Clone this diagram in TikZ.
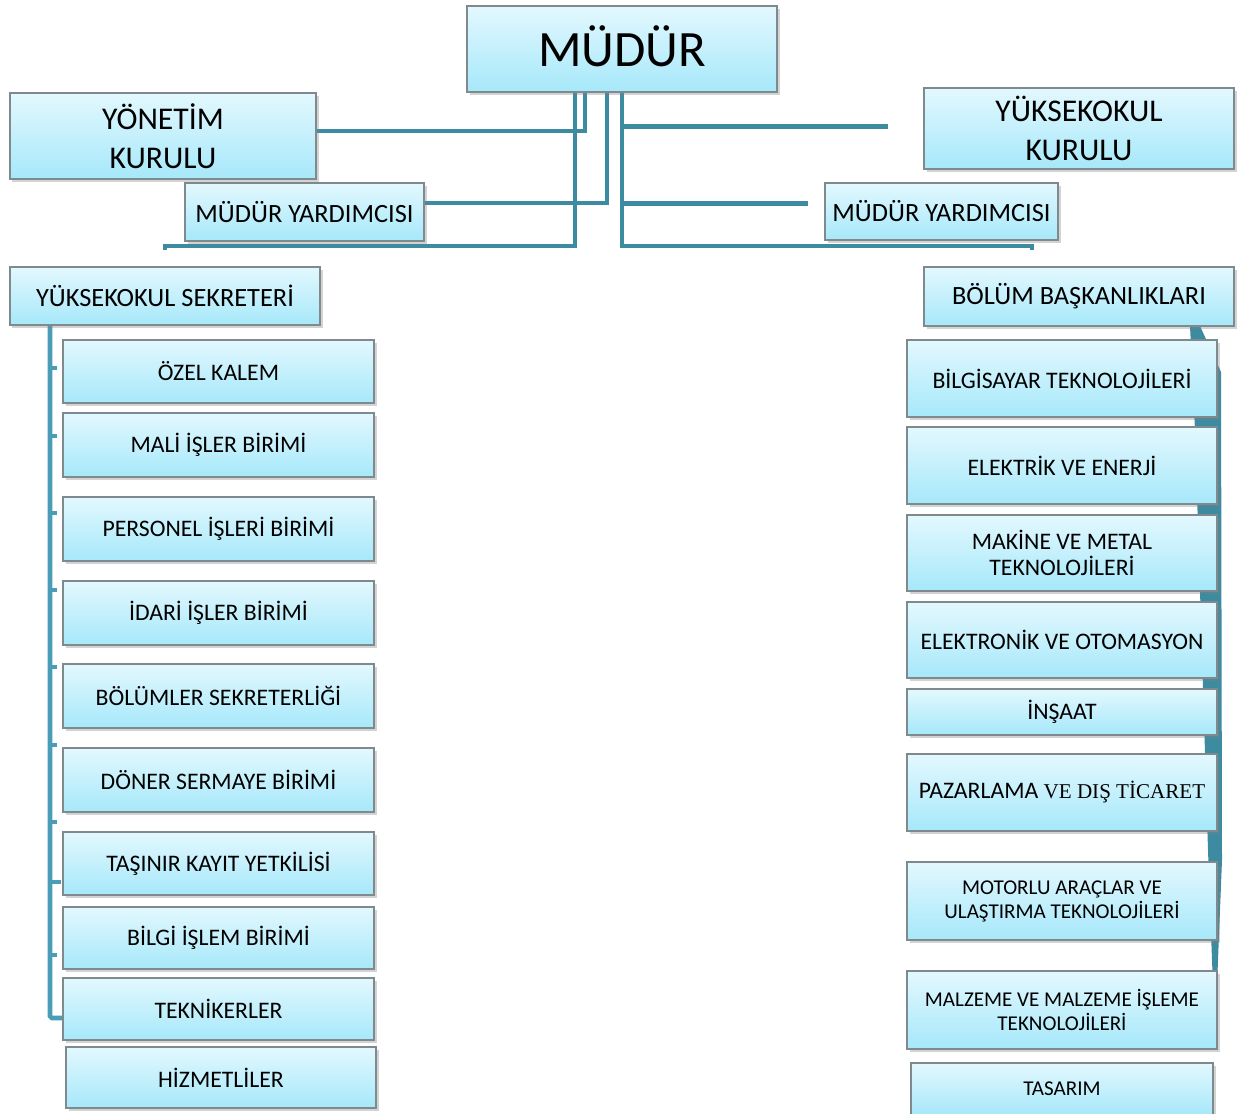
\documentclass[tikz,border=0pt]{standalone}
\usepackage{fontspec}
\setmainfont{Carlito}
\newfontfamily\serifx{Liberation Serif}
\usetikzlibrary{shadows,calc,backgrounds}
\definecolor{boxtop}{HTML}{E3F8FE}
\definecolor{boxbot}{HTML}{A6E8FA}
\definecolor{boxborder}{HTML}{7F8A8E}
\definecolor{conncol}{HTML}{3D8BA1}
\definecolor{conncolL}{HTML}{4A9DB6}
\tikzset{
  box/.style={draw=boxborder, line width=0.6pt, top color=boxtop, bottom color=boxbot,
    drop shadow={shadow xshift=0.05cm, shadow yshift=-0.06cm, opacity=0.35},
    inner sep=0pt, outer sep=0pt, align=center, text=black},
  conn/.style={draw=conncol, line width=2.6pt},
  connL/.style={draw=conncolL, line width=2.6pt},
  stub/.style={draw=conncolL, line width=1.8pt}
}
\newcommand\bx[7]{\node[box, minimum width={(#4-#2)*0.02cm}, minimum height={(#5-#3)*0.02cm}, font=#6] (#1) at ({(#2+#4)/2},{(#3+#5)/2}) {#7};}
\begin{document}
\begin{tikzpicture}[x=0.02cm,y=-0.02cm]
\useasboundingbox (0,0) rectangle (1241,1113);
% helper coordinates
\coordinate (x50) at (50,0);
\coordinate (x575) at (575,0);
\coordinate (x585) at (585,0);
\coordinate (x607) at (607,0);
\coordinate (x622) at (622,0);
\coordinate (lend) at (165,246);
\coordinate (rend) at (1032,246);

% top level
\bx{mudur}{467}{6}{777}{92}{\fontsize{29}{34}\selectfont}{\raisebox{3pt}{MÜDÜR}}
\bx{yon}{10}{93}{316}{179}{\fontsize{18}{22}\selectfont}{YÖNETİM\\KURULU}
\bx{ykk}{924}{88}{1234}{169}{\fontsize{18}{22}\selectfont}{YÜKSEKOKUL\\KURULU}
\bx{myl}{185}{183}{424}{241}{\fontsize{15}{18}\selectfont}{MÜDÜR YARDIMCISI}
\bx{myr}{825}{183}{1058}{240}{\fontsize{15}{18}\selectfont}{MÜDÜR YARDIMCISI}
\bx{ys}{10}{267}{320}{325}{\fontsize{15}{18}\selectfont}{YÜKSEKOKUL SEKRETERİ}
\bx{bb}{924}{267}{1234}{326}{\fontsize{15}{18}\selectfont}{BÖLÜM BAŞKANLIKLARI}

% left column
\bx{ozel}{63}{340}{374}{403}{\fontsize{13.5}{16}\selectfont}{ÖZEL KALEM}
\bx{mali}{63}{413}{374}{477}{\fontsize{13.5}{16}\selectfont}{MALİ İŞLER BİRİMİ}
\bx{pers}{63}{497}{374}{561}{\fontsize{13.5}{16}\selectfont}{PERSONEL İŞLERİ BİRİMİ}
\bx{idari}{63}{581}{374}{645}{\fontsize{13.5}{16}\selectfont}{İDARİ İŞLER BİRİMİ}
\bx{bolsek}{63}{664}{374}{728}{\fontsize{13.5}{16}\selectfont}{BÖLÜMLER SEKRETERLİĞİ}
\bx{doner}{63}{748}{374}{812}{\fontsize{13.5}{16}\selectfont}{DÖNER SERMAYE BİRİMİ}
\bx{tasinir}{63}{832}{374}{895}{\fontsize{13.5}{16}\selectfont}{TAŞINIR KAYIT YETKİLİSİ}
\bx{bilgi}{63}{907}{374}{969}{\fontsize{13.5}{16}\selectfont}{BİLGİ İŞLEM BİRİMİ}
\bx{tek}{63}{978}{374}{1040}{\fontsize{13.5}{16}\selectfont}{TEKNİKERLER}
\bx{hizm}{66}{1047}{376}{1108}{\fontsize{13.5}{16}\selectfont}{HİZMETLİLER}

% right column
\bx{bilgisayar}{907}{340}{1217}{417}{\fontsize{13.5}{16}\selectfont}{BİLGİSAYAR TEKNOLOJİLERİ}
\bx{elektrik}{907}{427}{1217}{504}{\fontsize{13.5}{16}\selectfont}{ELEKTRİK VE ENERJİ}
\bx{makine}{907}{515}{1217}{591}{\fontsize{13.5}{14.5}\selectfont}{MAKİNE VE METAL\\TEKNOLOJİLERİ}
\bx{elektronik}{907}{602}{1217}{678}{\fontsize{13.5}{16}\selectfont}{ELEKTRONİK VE OTOMASYON}
\bx{insaat}{907}{689}{1217}{735}{\fontsize{13.5}{16}\selectfont}{İNŞAAT}
\bx{pazar}{907}{754}{1217}{831}{\fontsize{13.5}{16}\selectfont}{PAZARLAMA {\serifx\fontsize{12}{14}\selectfont VE DIŞ TİCARET}}
\bx{motor}{907}{862}{1217}{940}{\fontsize{12}{13.6}\selectfont}{MOTORLU ARAÇLAR VE\\ULAŞTIRMA TEKNOLOJİLERİ}
\bx{malz}{907}{971}{1217}{1049}{\fontsize{12}{13.6}\selectfont}{MALZEME VE MALZEME İŞLEME\\TEKNOLOJİLERİ}
\bx{tasarim}{911}{1063}{1213}{1115}{\fontsize{12}{14}\selectfont}{TASARIM}

\begin{scope}[on background layer]
  % from MUDUR
  \draw[conn] (mudur.south -| x585) |- ($(yon.east)+(0,-5)$);
  \draw[conn] (mudur.south -| x607) |- ($(myl.east)+(0,-9)$);
  \draw[conn] (mudur.south -| x575) |- (lend) -- ++(0,4);
  \draw[conn] (mudur.south -| x622) |- (rend) -- ++(0,4);
  \draw[conn, shorten >=0.72cm] ($(ykk.west -| x622)+(0,-2)$) -- ($(ykk.west)+(0,-2)$);
  \draw[conn, shorten >=0.34cm] ($(myr.west -| x622)+(0,-8)$) -- ($(myr.west)+(0,-8)$);
  % left trunk
  \draw[connL, rounded corners=1pt] (ys.south -| x50) |- ($(tek.west)+(0,9)$);
  \foreach \y in {368,436,513,590,667,745,822,955}
    \draw[stub] ($(x50)+(0,\y)$) -- ++(7,0);
  \draw[stub] ($(x50)+(0,882)$) -- ++(11,0);
  % right band
  \fill[conncol] (bb.south -| 1190,0) -- (bb.south -| 1200,0) -- (1221,372) -- (1222,860)
     -- (1218,960) -- (1215,1040) -- (1212,960) -- (1208,850) -- (1195,430) -- cycle;
\end{scope}
\end{tikzpicture}
\end{document}
